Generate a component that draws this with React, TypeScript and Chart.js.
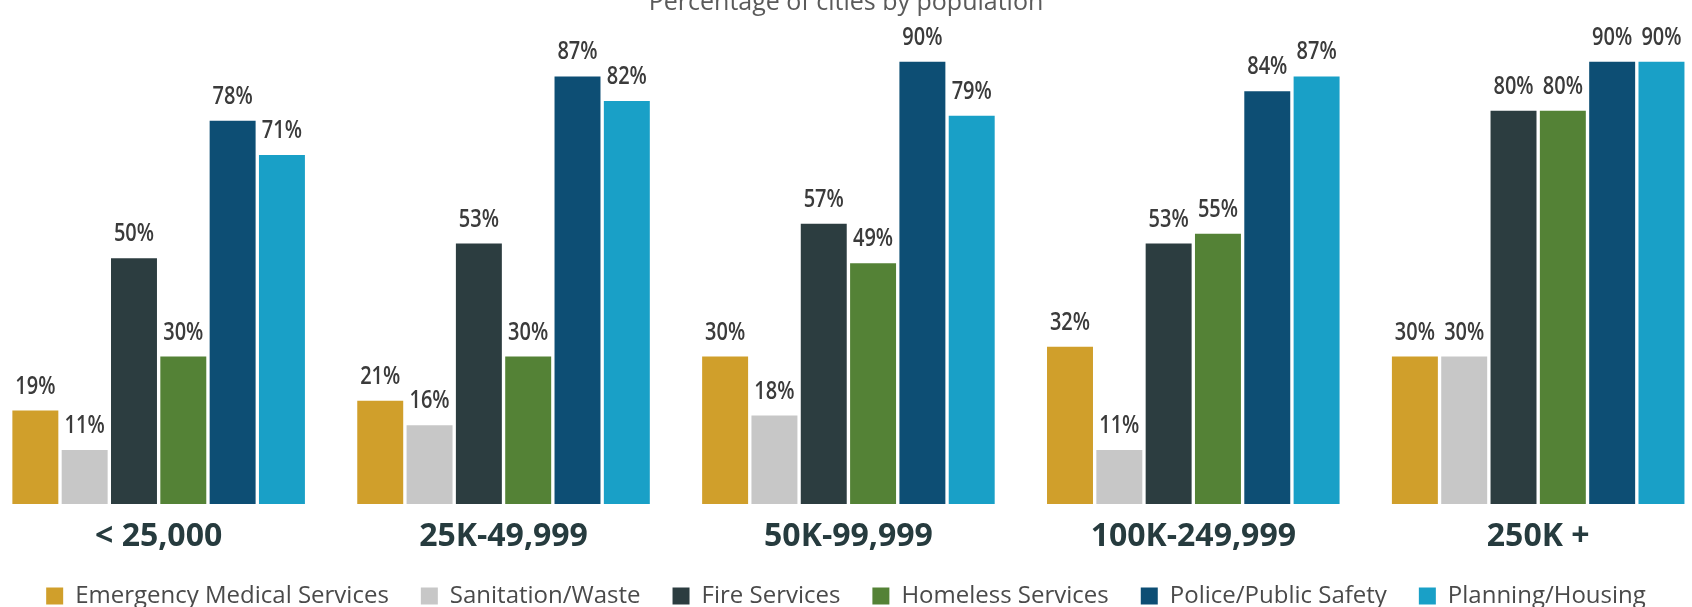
import React, { useEffect, useRef } from "react";
import { Chart, registerables } from "chart.js";

Chart.register(...registerables);

const titleText = "Percentage of cities by population";
const categories = ["< 25,000", "25K-49,999", "50K-99,999", "100K-249,999", "250K +"];
const seriesNames = [
  "Emergency Medical Services",
  "Sanitation/Waste",
  "Fire Services",
  "Homeless Services",
  "Police/Public Safety",
  "Planning/Housing",
];
const emergencyMedical = [19, 21, 30, 32, 30];
const sanitationWaste = [11, 16, 18, 11, 30];
const fireServices = [50, 53, 57, 53, 80];
const homelessServices = [30, 30, 49, 55, 80];
const policeSafety = [78, 87, 90, 84, 90];
const planningHousing = [71, 82, 79, 87, 90];
const seriesValues = [
  emergencyMedical,
  sanitationWaste,
  fireServices,
  homelessServices,
  policeSafety,
  planningHousing,
];
const seriesColors = ["#d09f2b", "#c7c7c7", "#2c3d40", "#548236", "#0d4e74", "#19a0c7"];

const valueLabels = {
  id: "valueLabels",
  afterDatasetsDraw(chart: any) {
    const ctx = chart.ctx;
    chart.data.datasets.forEach((ds: any, di: number) => {
      const meta = chart.getDatasetMeta(di);
      meta.data.forEach((bar: any, i: number) => {
        const v = ds.data[i].y;
        ctx.save();
        ctx.font = "600 25px 'Open Sans', sans-serif";
        ctx.fillStyle = "#3b3b3b";
        ctx.textAlign = "center";
        ctx.textBaseline = "alphabetic";
        ctx.translate(bar.x, bar.y - 17);
        ctx.scale(0.8, 1);
        ctx.fillText(v + "%", 0, 0);
        ctx.restore();
      });
    });
  },
};

export default function App() {
  const canvasRef = useRef<HTMLCanvasElement | null>(null);

  useEffect(() => {
    document.body.style.margin = "0";
    const canvas = canvasRef.current;
    if (!canvas) return;
    const chart = new Chart(canvas, {
      type: "bar",
      data: {
        datasets: seriesNames.map((name, si) => ({
          label: name,
          data: seriesValues[si].map((v, i) => ({ x: i, y: v })),
          backgroundColor: seriesColors[si],
          borderWidth: 0,
          barPercentage: 0.932,
          categoryPercentage: 0.858,
        })),
      },
      options: {
        animation: false,
        responsive: false,
        events: [],
        layout: { padding: 0 },
        plugins: {
          title: {
            display: true,
            text: titleText,
            color: "#5a5a5a",
            font: { family: "'Open Sans', sans-serif", size: 25, lineHeight: 0.9, weight: "normal" },
            padding: { top: 2, bottom: 0 },
          },
          legend: {
            position: "bottom",
            labels: {
              boxWidth: 17,
              boxHeight: 17,
              padding: 32,
              color: "#4a4a4a",
              font: { family: "'Open Sans', sans-serif", size: 24 },
            },
          },
          tooltip: { enabled: false },
        },
        scales: {
          x: {
            type: "linear",
            offset: false,
            min: -0.46,
            max: 4.446,
            grid: { display: false, drawTicks: false },
            border: { display: false },
            afterBuildTicks: (scale: any) => {
              scale.ticks = categories.map((_, i) => ({ value: i }));
            },
            afterFit: (scale: any) => {
              scale.height = 48;
            },
            ticks: {
              autoSkip: false,
              maxRotation: 0,
              padding: 14,
              color: "#263b3e",
              font: { family: "'Open Sans', sans-serif", size: 32, weight: "bold" },
              callback: (v: any) => categories[v] ?? "",
            },
          },
          y: { display: false, min: 0, max: 99.6 },
        },
      } as any,
      plugins: [valueLabels],
    });
    return () => chart.destroy();
  }, []);

  return (
    <div style={{ width: 1692, height: 607, overflow: "hidden", position: "relative", background: "#fff" }}>
      <div style={{ position: "absolute", left: 0, top: -10, width: 1692, height: 628 }}>
        <canvas ref={canvasRef} width={1692} height={628} style={{ width: 1692, height: 628, display: "block" }} />
      </div>
    </div>
  );
}
